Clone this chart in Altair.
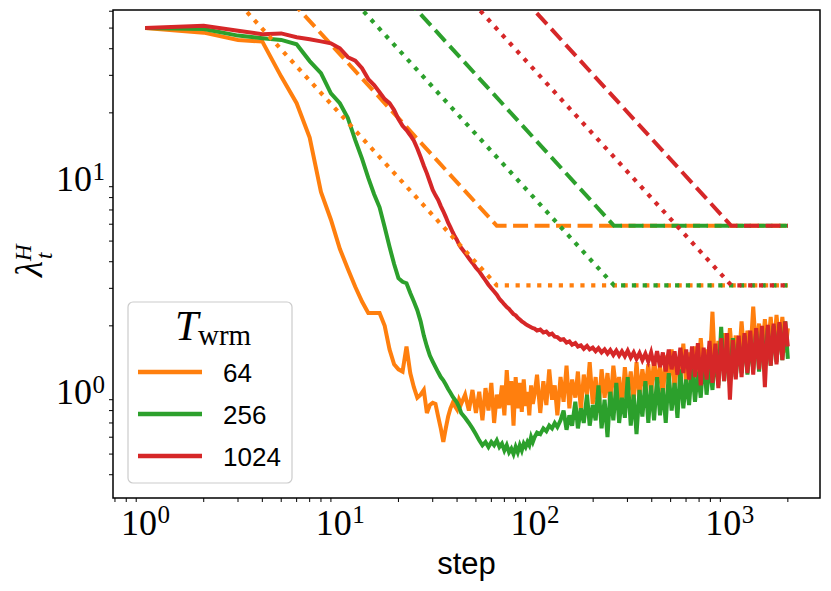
import altair as alt
import pandas as pd

# ---------------- data ----------------
T_WRM = [64, 256, 1024]
LABELS = ["64", "256", "1024"]
COLORS = ["#ff7f0e", "#2ca02c", "#d62728"]

DASH_LEVEL = 5.9
DOT_LEVEL = 3.1

EARLY_STEPS = list(range(1, 42))

ORANGE_EARLY = [50.0, 47.6, 44.0, 43.2, 29.6, 22.2, 15.3, 8.5, 6.3, 4.6,
                3.7, 3.05, 2.6, 2.3, 2.3, 2.3, 2.0, 1.55, 1.32, 1.25,
                1.22, 1.6, 1.2, 1.03, 0.92, 0.95, 1.0, 0.78, 0.85, 0.87,
                0.86, 0.75, 0.66, 0.57, 0.66, 0.75, 0.82, 0.87, 0.84, 0.81,
                0.9]
GREEN_EARLY = [50.0, 49.5, 46.1, 44.8, 44.0, 42.0, 35.0, 30.7, 24.7, 22.2,
               18.9, 14.9, 12.2, 9.9, 8.3, 7.2, 5.8, 4.7, 3.9, 3.35,
               3.22, 3.17, 2.85, 2.6, 2.37, 2.1, 1.8, 1.6, 1.45, 1.36,
               1.28, 1.21, 1.15, 1.11, 1.06, 1.01, 0.97, 0.93, 0.9, 0.87,
               0.83]
RED_EARLY = [50.0, 51.3, 48.6, 46.8, 47.2, 45.3, 44.3, 43.3, 42.4, 40.2,
             36.5, 35.2, 32.4, 28.8, 27.0, 25.0, 23.2, 22.2, 20.6, 18.7,
             17.4, 16.6, 15.7, 14.8, 13.6, 12.4, 11.3, 10.4, 9.5, 8.7,
             8.2, 7.8, 7.3, 6.9, 6.5, 6.1, 5.8, 5.5, 5.25, 5.05,
             4.8]

TAIL_STEPS = [42, 44, 46, 48, 50, 52, 54, 56, 58, 60,
              62, 64, 66, 68, 70, 72, 74, 76, 78, 80,
              82, 84, 86, 88, 90, 92, 94, 96, 98,
              100, 103, 107, 111, 115, 119, 123, 127, 131, 136,
              141, 146, 151, 156, 162, 167, 173, 179, 186, 192,
              199, 206, 213, 221, 229, 237, 245, 254, 263, 272,
              281, 291, 301, 312, 323, 334, 346, 358, 371, 384,
              397, 411, 426, 441, 456, 472, 489, 506, 524, 542,
              561, 581, 601, 622, 644, 667, 690, 714, 739, 765,
              792, 820, 849, 879, 909, 941, 974, 1008, 1044, 1080,
              1118, 1157, 1198, 1240, 1283, 1328, 1375, 1423, 1473, 1524,
              1578, 1633, 1690, 1749, 1811, 1874, 1940, 2000]

ORANGE_TAIL = [0.86, 0.95, 0.80, 1.00, 0.78, 0.98, 0.72, 1.02, 0.80, 1.08,
               0.70, 0.95, 0.82, 1.05, 0.76, 1.24, 0.85, 1.10, 0.68, 1.15,
               0.82, 1.08, 0.79, 1.12, 0.84, 0.98, 0.76, 1.05, 0.86,
               0.95, 1.18, 0.78, 1.10, 0.85, 1.25, 0.90, 1.05, 0.76, 1.15,
               0.88, 1.30, 0.82, 1.12, 0.92, 1.22, 0.80, 1.18, 0.95, 1.35,
               0.86, 1.15, 0.78, 1.25, 0.92, 1.20, 0.85, 1.30, 0.98, 1.15,
               0.82, 1.28, 0.95, 1.22, 0.88, 1.35, 0.92, 1.25, 1.00, 1.32,
               0.95, 1.40, 1.05, 1.30, 0.92, 1.45, 1.08, 1.55, 1.00, 1.42,
               1.12, 1.65, 1.05, 1.50, 1.15, 1.60, 1.10, 1.75, 1.20, 1.55,
               1.25, 2.33, 1.15, 1.70, 1.30, 1.85, 1.20, 1.95, 1.35, 1.80,
               1.30, 2.10, 1.40, 1.90, 1.45, 2.46, 1.50, 2.05, 1.45, 2.15,
               1.55, 2.20, 1.50, 2.25, 1.60, 2.20, 1.50, 1.95]
GREEN_TAIL = [0.78, 0.74, 0.70, 0.66, 0.62, 0.58, 0.55, 0.57, 0.54, 0.57,
              0.55, 0.58, 0.54, 0.56, 0.52, 0.55, 0.51, 0.53, 0.50, 0.54,
              0.51, 0.55, 0.52, 0.56, 0.54, 0.57, 0.55, 0.60, 0.57,
              0.60, 0.63, 0.62, 0.66, 0.64, 0.68, 0.66, 0.70, 0.67, 0.72,
              0.80, 0.65, 0.76, 0.68, 0.88, 0.66, 0.82, 0.70, 0.95, 0.68,
              0.85, 0.72, 1.05, 0.66, 0.90, 0.60, 0.98, 0.72, 1.08, 0.70,
              0.92, 0.74, 1.15, 0.68, 0.95, 0.62, 1.00, 0.75, 1.10, 0.70,
              1.05, 0.72, 1.15, 0.76, 1.02, 0.70, 1.20, 0.80, 1.08, 0.74,
              1.25, 0.82, 1.12, 0.85, 1.30, 0.88, 1.22, 0.92, 1.45, 0.95,
              1.35, 1.00, 1.55, 1.05, 1.98, 1.10, 1.60, 1.08, 1.75, 1.15,
              1.65, 1.20, 1.80, 1.18, 1.70, 1.25, 1.90, 1.22, 1.85, 1.30,
              1.95, 1.30, 2.00, 1.35, 2.05, 1.38, 2.10, 1.40]
RED_TAIL = [4.65, 4.4, 4.15, 3.95, 3.75, 3.6, 3.42, 3.27, 3.12, 3.0,
            2.9, 2.8, 2.68, 2.6, 2.52, 2.45, 2.4, 2.33, 2.27, 2.24,
            2.18, 2.14, 2.1, 2.07, 2.04, 2.01, 1.99, 1.97, 1.95,
            1.94, 1.90, 1.92, 1.86, 1.88, 1.82, 1.84, 1.78, 1.77, 1.72,
            1.73, 1.67, 1.69, 1.63, 1.66, 1.60, 1.62, 1.56, 1.61, 1.55,
            1.58, 1.52, 1.57, 1.50, 1.55, 1.48, 1.54, 1.46, 1.53, 1.45,
            1.52, 1.44, 1.53, 1.42, 1.50, 1.40, 1.49, 1.38, 1.48, 1.36,
            1.50, 1.30, 1.52, 1.28, 1.50, 1.22, 1.55, 1.25, 1.52, 1.18,
            1.58, 1.20, 1.55, 1.12, 1.60, 1.15, 1.66, 1.05, 1.58, 1.12,
            1.70, 1.08, 1.65, 1.02, 1.75, 1.10, 1.85, 0.90, 1.72, 1.12,
            1.80, 1.15, 1.85, 1.20, 1.90, 1.18, 1.95, 1.25, 2.00, 1.03,
            2.02, 1.30, 2.05, 1.32, 2.08, 1.38, 2.10, 1.60]

X_MAJOR = [1, 10, 100, 1000]
X_EXP = ["0", "1", "2", "3"]
Y_MAJOR = [1, 10]
Y_EXP = ["0", "1"]
X_MINOR = [0.7, 0.8, 0.9, 2, 3, 4, 5, 6, 7, 8, 9, 20, 30, 40, 50, 60, 70, 80, 90,
           200, 300, 400, 500, 600, 700, 800, 900, 2000]
Y_MINOR = [0.4, 0.5, 0.6, 0.7, 0.8, 0.9, 2, 3, 4, 5, 6, 7, 8, 9, 20, 30, 40, 50, 60]

X_DOMAIN = [0.684, 2925]
Y_DOMAIN = [0.311, 60.8]

# ---------------- chart ----------------
W, H = 707, 488
xscale = alt.Scale(type="log", domain=X_DOMAIN)
yscale = alt.Scale(type="log", domain=Y_DOMAIN)
GRID = "#c4c4c4"
SERIF = "Liberation Serif"
SANS = "Liberation Sans"

x_axis = alt.Axis(values=X_MAJOR, labels=False, grid=True, gridColor=GRID, gridWidth=1.3,
                  tickSize=7, tickWidth=1.3, tickColor="black", domain=False, title="")
y_axis = alt.Axis(values=Y_MAJOR, labels=False, grid=True, gridColor=GRID, gridWidth=1.3,
                  tickSize=7, tickWidth=1.3, tickColor="black", domain=False, title="")

curves = [(ORANGE_EARLY, ORANGE_TAIL), (GREEN_EARLY, GREEN_TAIL), (RED_EARLY, RED_TAIL)]


def line_layer(df, color, dash=None, width=4.0, axes=False):
    kw = dict(clip=True, color=color, strokeWidth=width)
    if dash is not None:
        kw["strokeDash"] = dash
    if axes:
        enc = dict(x=alt.X("step:Q", scale=xscale, axis=x_axis),
                   y=alt.Y("value:Q", scale=yscale, axis=y_axis))
    else:
        enc = dict(x=alt.X("step:Q", scale=xscale, axis=None),
                   y=alt.Y("value:Q", scale=yscale, axis=None))
    return alt.Chart(df).mark_line(**kw).encode(**enc)


layers = []
for i, (early, tail) in enumerate(curves):
    steps = EARLY_STEPS + TAIL_STEPS
    vals = early + tail
    assert len(steps) == len(vals), (i, len(steps), len(vals))
    df = pd.DataFrame({"step": steps, "value": vals})
    layers.append(line_layer(df, COLORS[i], axes=(i == 0)))
    T = T_WRM[i]
    ddf = pd.DataFrame({"step": [1, T, 2000],
                        "value": [DASH_LEVEL * T, DASH_LEVEL, DASH_LEVEL]})
    layers.append(line_layer(ddf, COLORS[i], dash=[15, 6.5], width=4.0))
for i, T in enumerate(T_WRM):
    pdf = pd.DataFrame({"step": [1, T, 2000],
                        "value": [DOT_LEVEL * T, DOT_LEVEL, DOT_LEVEL]})
    layers.append(line_layer(pdf, COLORS[i], dash=[4.2, 6.6], width=4.2))

# minor ticks
xm = pd.DataFrame({"v": X_MINOR})
ym = pd.DataFrame({"v": Y_MINOR})
layers.append(alt.Chart(xm).mark_rule(color="black", strokeWidth=1).encode(
    x=alt.X("v:Q", scale=xscale, axis=None), y=alt.value(H), y2=alt.value(H + 4)))
layers.append(alt.Chart(ym).mark_rule(color="black", strokeWidth=1).encode(
    y=alt.Y("v:Q", scale=yscale, axis=None), x=alt.value(0), x2=alt.value(-4)))

# tick labels (10 with superscript exponent)
xl = pd.DataFrame({"v": X_MAJOR, "base": ["10"] * 4, "exp": X_EXP})
yl = pd.DataFrame({"v": Y_MAJOR, "base": ["10"] * 2, "exp": Y_EXP})
layers.append(alt.Chart(xl).mark_text(font=SERIF, fontSize=36, align="right",
                                      baseline="alphabetic", dx=12, color="black").encode(
    x=alt.X("v:Q", scale=xscale, axis=None), y=alt.value(H + 37), text="base:N"))
layers.append(alt.Chart(xl).mark_text(font=SERIF, fontSize=25, align="left",
                                      baseline="alphabetic", dx=12.5, color="black").encode(
    x=alt.X("v:Q", scale=xscale, axis=None), y=alt.value(H + 25), text="exp:N"))
layers.append(alt.Chart(yl).mark_text(font=SERIF, fontSize=36, align="right",
                                      baseline="alphabetic", dy=14.5, color="black").encode(
    y=alt.Y("v:Q", scale=yscale, axis=None), x=alt.value(-21), text="base:N"))
layers.append(alt.Chart(yl).mark_text(font=SERIF, fontSize=25, align="left",
                                      baseline="alphabetic", dy=3, color="black").encode(
    y=alt.Y("v:Q", scale=yscale, axis=None), x=alt.value(-20.5), text="exp:N"))


def text_layer(txt, x, y, size, font=SERIF, style="normal", angle=0, align="left"):
    kw = dict(font=font, fontSize=size, align=align, baseline="alphabetic",
              color="black", fontStyle=style)
    if angle:
        kw["angle"] = angle
    return alt.Chart(pd.DataFrame({"t": [txt]})).mark_text(**kw).encode(
        text="t:N", x=alt.value(x), y=alt.value(y))


# x-axis title
layers.append(text_layer("step", W / 2, 564, 31, font=SANS, align="center"))

# y-axis title  lambda_t^H
layers.append(text_layer("λ", -71, 267, 37, style="italic", angle=270))
layers.append(text_layer("H", -82, 251, 23, style="italic", angle=270))
layers.append(text_layer("t", -61, 249, 23, style="italic", angle=270))

# legend
one = pd.DataFrame({"a": [0]})
layers.append(alt.Chart(one).mark_rect(cornerRadius=5, fill="white", fillOpacity=0.8,
                                       stroke="#cccccc", strokeWidth=1.2).encode(
    x=alt.value(15), x2=alt.value(179), y=alt.value(292), y2=alt.value(473)))
layers.append(text_layer("T", 62, 330, 42, style="italic"))
layers.append(text_layer("wrm", 85, 335, 29))
for i, lab in enumerate(LABELS):
    ly = 362 + 42 * i
    layers.append(alt.Chart(one).mark_rule(color=COLORS[i], strokeWidth=4.3).encode(
        x=alt.value(25), x2=alt.value(89), y=alt.value(ly)))
    layers.append(text_layer(lab, 110, ly + 9.5, 26, font=SANS))

chart = alt.layer(*layers).properties(
    width=W, height=H,
    padding={"left": 105, "top": 2, "right": 3, "bottom": 85},
    autosize=alt.AutoSizeParams(type="none"),
).configure_view(stroke="black", strokeWidth=1.5)

chart.save("out.html", embed_options={"renderer": "svg", "actions": False})
